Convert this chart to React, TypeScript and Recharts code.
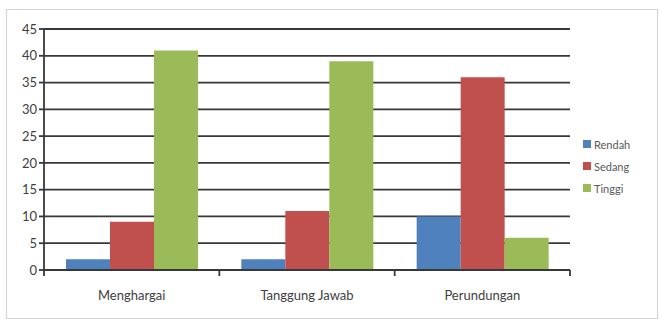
import { BarChart, Bar, XAxis, YAxis, CartesianGrid } from "recharts";

const categories = ["Menghargai", "Tanggung Jawab", "Perundungan"];
const rendah = [2, 2, 10];
const sedang = [9, 11, 36];
const tinggi = [41, 39, 6];
const yTicks = [0, 5, 10, 15, 20, 25, 30, 35, 40, 45];

const series = [
  { key: "rendah", name: "Rendah", color: "#4F81BD" },
  { key: "sedang", name: "Sedang", color: "#C0504D" },
  { key: "tinggi", name: "Tinggi", color: "#9BBB59" },
];

const data = categories.map((name, i) => ({
  name,
  rendah: rendah[i],
  sedang: sedang[i],
  tinggi: tinggi[i],
}));

const WIDTH = 659;
const HEIGHT = 322;
const PLOT_LEFT = 44;
const PLOT_RIGHT = 570;
const halfBand = (PLOT_RIGHT - PLOT_LEFT) / categories.length / 2;

const FONT = "Lato, 'Open Sans', sans-serif";
const LINE = "#383838";

// category label plus tick marks on the band boundaries
function CategoryTick(props: any) {
  const { x, y, payload, index } = props;
  const top = y - 8;
  return (
    <g>
      <line x1={x - halfBand} y1={top} x2={x - halfBand} y2={top + 6} stroke={LINE} strokeWidth={1.8} />
      {index === categories.length - 1 && (
        <line x1={x + halfBand} y1={top} x2={x + halfBand} y2={top + 6} stroke={LINE} strokeWidth={1.8} />
      )}
      <text x={x} y={y + 22} textAnchor="middle" fill="#404040" fontSize={13} fontFamily={FONT}>
        {payload.value}
      </text>
    </g>
  );
}

export default function App() {
  return (
    <div style={{ position: "absolute", left: 0, top: 0, width: WIDTH, height: HEIGHT, background: "#fff" }}>
      <div
        style={{
          position: "absolute",
          left: 6,
          top: 9,
          width: 650,
          height: 308,
          border: "1px solid #d4d4d4",
        }}
      />
      <BarChart
        width={WIDTH}
        height={HEIGHT}
        data={data}
        margin={{ top: 29, right: WIDTH - PLOT_RIGHT, bottom: 0, left: 0 }}
        barCategoryGap={22}
        barGap={0}
        style={{ position: "absolute", left: 0, top: 0 }}
      >
        <CartesianGrid vertical={false} stroke={LINE} strokeWidth={1.8} />
        <XAxis
          dataKey="name"
          height={52}
          axisLine={{ stroke: LINE, strokeWidth: 1.8 }}
          tickLine={false}
          tick={<CategoryTick />}
          interval={0}
        />
        <YAxis
          width={PLOT_LEFT}
          domain={[0, 45]}
          ticks={yTicks}
          interval={0}
          axisLine={{ stroke: LINE, strokeWidth: 1.8 }}
          tickLine={{ stroke: LINE, strokeWidth: 1.8 }}
          tickSize={5}
          tick={{ fill: "#404040", fontSize: 13, fontFamily: FONT }}
        />
        {series.map((s) => (
          <Bar key={s.key} dataKey={s.key} name={s.name} fill={s.color} isAnimationActive={false} />
        ))}
      </BarChart>
      <div style={{ position: "absolute", left: 583, top: 133, fontFamily: FONT, fontSize: 11, color: "#595959" }}>
        {series.map((s) => (
          <div key={s.key} style={{ display: "flex", alignItems: "center", height: 22 }}>
            <span style={{ width: 8, height: 8, background: s.color, marginRight: 3 }} />
            {s.name}
          </div>
        ))}
      </div>
    </div>
  );
}
